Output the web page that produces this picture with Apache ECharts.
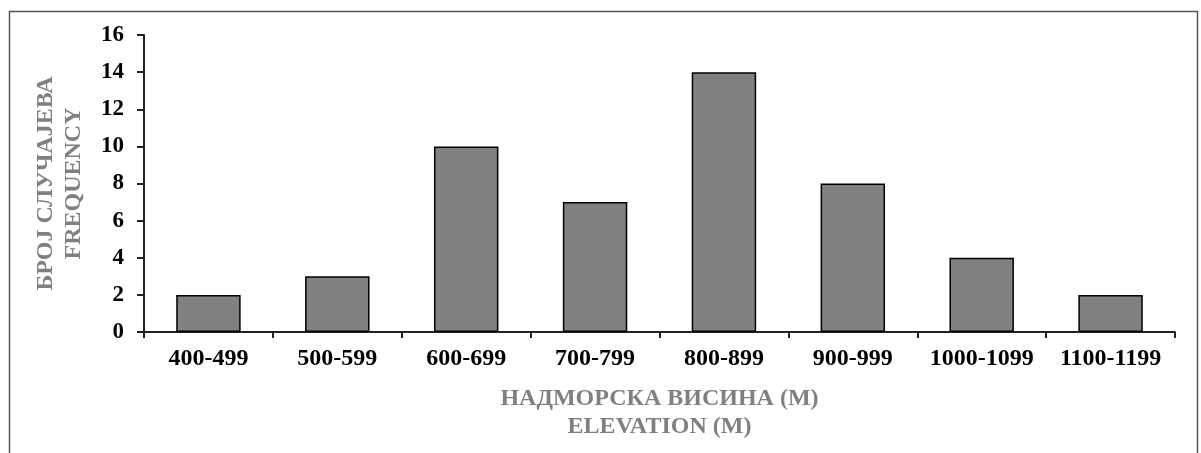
<!DOCTYPE html>
<html>
<head>
<meta charset="utf-8">
<script src="https://cdn.jsdelivr.net/npm/echarts@6/dist/echarts.min.js"></script>
<style>
html,body{margin:0;padding:0;background:#fff;}
#chart{width:1201px;height:453px;}
</style>
</head>
<body>
<div id="chart"></div>
<script>
const categories = ['400-499','500-599','600-699','700-799','800-899','900-999','1000-1099','1100-1199'];
const frequency = [2, 3, 10, 7, 14, 8, 4, 2];
const xTitle = 'НАДМОРСКА ВИСИНА (М)\nELEVATION (M)';
const yTitle = 'БРОЈ СЛУЧАЈЕВА\nFREQUENCY';

const FONT = "'Liberation Serif', 'Times New Roman', serif";
const chart = echarts.init(document.getElementById('chart'), null, {renderer: 'canvas'});
chart.setOption({
  animation: false,
  backgroundColor: '#fff',
  graphic: [{
    type: 'rect',
    shape: {x: 9.5, y: 11.5, width: 1188, height: 460},
    style: {fill: 'none', stroke: '#555', lineWidth: 1.5},
    silent: true
  }],
  grid: {left: 144, right: 26, top: 35, bottom: 121},
  xAxis: {
    type: 'category',
    data: categories,
    boundaryGap: true,
    axisLine: {lineStyle: {color: '#222', width: 2}},
    axisTick: {show: true, length: 6, alignWithLabel: false, lineStyle: {color: '#222', width: 2}},
    axisLabel: {color: '#000', fontFamily: FONT, fontWeight: 'bold', fontSize: 24, margin: 15, interval: 0},
    name: xTitle,
    nameLocation: 'middle',
    nameGap: 53,
    nameTextStyle: {color: '#808080', fontFamily: FONT, fontWeight: 'bold', fontSize: 24, lineHeight: 28}
  },
  yAxis: {
    type: 'value',
    min: 0, max: 16, interval: 2,
    splitLine: {show: false},
    axisLine: {show: true, lineStyle: {color: '#222', width: 2}},
    axisTick: {show: true, length: 7, lineStyle: {color: '#222', width: 2}},
    axisLabel: {color: '#000', fontFamily: FONT, fontWeight: 'bold', fontSize: 23, margin: 20},
    name: yTitle,
    nameLocation: 'middle',
    nameGap: 56,
    nameTextStyle: {color: '#808080', fontFamily: FONT, fontWeight: 'bold', fontSize: 24, lineHeight: 28}
  },
  series: [{
    type: 'bar',
    data: frequency,
    barCategoryGap: '50%',
    itemStyle: {color: '#808080', borderColor: '#000', borderWidth: 1.5}
  }]
});
</script>
</body>
</html>
